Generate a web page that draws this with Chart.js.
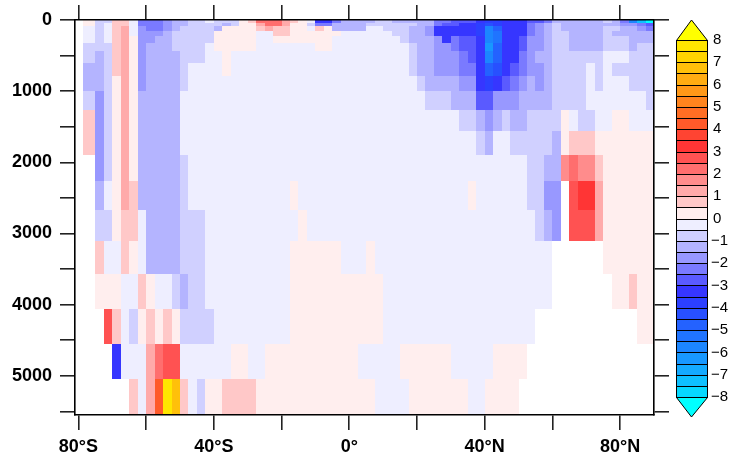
<!DOCTYPE html>
<html lang="en">
<head>
<meta charset="UTF-8">
<title>Latitude-depth section</title>
<script src="https://cdn.jsdelivr.net/npm/chart.js"></script>
<style>
  html, body { margin: 0; padding: 0; background: #fff; }
</style>
</head>
<body>
<canvas id="section" width="730" height="459"></canvas>
<script>
// latitude edges of the cells (deg, south negative) - 67 columns
const latEdges = [-78.5, -75, -72.5, -70, -67.5, -65, -62.5, -60, -57.5, -55, -52.5, -50, -47.5, -45,
  -42.5, -40, -37.5, -35, -32.5, -30, -27.5, -25, -22.5, -20, -17.5, -15, -12.5, -10, -7.5, -5, -2.5,
  0, 2.5, 5, 7.5, 10, 12.5, 15, 17.5, 20, 22.5, 25, 27.5, 30, 32.5, 35, 37.5, 40, 42.5, 45, 47.5,
  50, 52.5, 55, 57.5, 60, 62.5, 65, 67.5, 70, 72.5, 75, 77.5, 80, 82.5, 85, 87.5, 90];

// depth edges of the model layers (m) - 20 layers
const depthEdges = [0, 40, 90, 160, 230, 320, 440, 600, 780, 1000, 1260, 1565, 1890, 2265, 2675,
  3110, 3565, 4060, 4550, 5045, 5550];

// axis ticks
const xTicks = [-80, -60, -40, -20, 0, 20, 40, 60, 80];
const xTickLabels = { '-80': '80°S', '-40': '40°S', '0': '0°', '40': '40°N', '80': '80°N' };
const yTicks = [0, 500, 1000, 1500, 2000, 2500, 3000, 3500, 4000, 4500, 5000, 5500];

// contour levels and the fill colour of each band (below first level .. above last level)
const levels = [-8, -7.5, -7, -6.5, -6, -5.5, -5, -4.5, -4, -3.5, -3, -2.5, -2, -1.5, -1, -0.5, 0,
  0.5, 1, 1.5, 2, 2.5, 3, 3.5, 4, 4.5, 5, 5.5, 6, 6.5, 7, 7.5, 8];
const fillColors = ['#00FFFF', '#06D8FF', '#0EC0FF', '#14AAFF', '#1898FF', '#1C86FF', '#2074FF',
  '#2462FF', '#2850FF', '#2C40FF', '#3636FF', '#5A5AFF', '#7A7AFF', '#9898FF', '#B4B4FF', '#D0D0FF',
  '#EEEEFF', '#FFEEEE', '#FFC8C8', '#FFAAAA', '#FF8C8C', '#FF6E6E', '#FF5252', '#FF3535', '#FF4432',
  '#FF5A2A', '#FF6E24', '#FF841E', '#FF9818', '#FFAC12', '#FFC00A', '#FFD400', '#FFE600', '#FFFF00'];

// one letter per cell: the letter stands for the value in keyValues, '.' = no data
const valueKey = 'QPONMLKJIHGFEDCBAabcdefghijklmnopq';
const keyValues = [-8.25, -7.75, -7.25, -6.75, -6.25, -5.75, -5.25, -4.75, -4.25, -3.75, -3.25,
  -2.75, -2.25, -1.75, -1.25, -0.75, -0.25, 0.25, 0.75, 1.25, 1.75, 2.25, 2.75, 3.25, 3.75, 4.25,
  4.75, 5.25, 5.75, 6.25, 6.75, 7.25, 7.75, 8.25];

// anomaly, one string per depth layer (top to bottom), south to north, in groups of 10 cells
const rows = [
  'aBBbbAEEED CCBBABBBab eeecbaAGGE CCCCBBCCCC CEEFFFGHHG GGFFECCCCC CBCELOQ',
  'aBAbbAEEED CCBBBBCBaa ceecaaBEEC CCCBBBBBBC CEFFGGHIHG GGEDCBCCCC CCCDDEF',
  'ABAbcADEED CBBBBCaaaa bcbbaaAbaC CCCAABBBCC DGGGGGHLJG GGEDCBCCCC CBBCCDE',
  'ABAbcADDDC BBBBBaaaaa AAbbaaaaaa AAAAAABBCC DGGGGGHLKG GGEDCBBCCC CBCCCCC',
  'ABAbcaDDCC BBBBBaaaaa AAaaaaaaaA AAAAAAABCC CDGEFFGLKG GFDDCBBCCC CBBBCCC',
  'BBBbcaDCCC BBBBAaaaaa AAAAAAAaaA AAAAAAAABC CDDEFFGMJG GFDDCBBCCC CBBBCBB',
  'BCBbcaDCCC CBBBAAaAAA AAAAAAAAAA AAAAAAAABC CDDDEFGLJG GEDCCBBBBB BAAABBB',
  'CCBbcaDCCC CBAAAAaAAA AAAAAAAAAA AAAAAAAABC CDDDEEGJIG FEDDCBBBBA BABBBBB',
  'CCBacaDCCC CBAAAAAAAA AAAAAAAAAA AAAAAAAAAB CCCCDDGHGF EDCDCBBBBA BAAABBB',
  'BDBacaCCCC CAAAAAAAAA AAAAAAAAAA AAAAAAAAAA BBBCCCFFDD DCCCCBBBBA AAAAAAB',
  'bDBacaCCCC CAAAAAAAAA AAAAAAAAAA AAAAAAAAAA AAAABBCDCB CCBBBBaABB AAaaAAA',
  'bDBacaCCCC CAAAAAAAAA AAAAAAAAAA AAAAAAAAAA AAAAAABCAA BBBBBCabbb aaaaaaa',
  '.DBacaCCCC CBAAAAAAAA AAAAAAAAAA AAAAAAAAAA AAAAAAAAAA AABBCCdedd baaaaaa',
  '.CAacbCCCC CBAAAAAAAA AAAAaAAAAA AAAAAAAAAA AAAAAaAAAA AABBDD.fgg caaaaaa',
  '.BBabbACCC CBBBAAAAAA AAAAAaAAAA AAAAAAAAAA AAAAAAAAAA AAABCD.fff caaaaaa',
  '.bAAbaACCC CBBBAAAAAA AAAAaaaaaa AAAaAAAAAA AAAAAAAAAA AAAAA..... .aaaaaa',
  '.aaaAAbaAA BCBBAAAAAA AAAAaaaaaa aaaaaAAAAA AAAAAAAAAA AAAAA..... ..aabaa',
  '..fbABabab aBBBBAAAAA AAAAaaaaaa aaaaaAAAAA AAAAAAAAAA AAA....... .....aa',
  '...GAAAcef fAAAAAAaaA Aaaaaaaaaa aaAAAAAaaa aaaAAAAAaa aa........ .......',
  '.....bAcip nbABaabbbb aaaaaaaaaa aaaaAAAAaa aaaaaAAaaa a......... .......'
].map(s => s.replace(/ /g, ''));

function colorFor(v) {
  let k = 0;
  while (k < levels.length && v >= levels[k]) k++;
  return fillColors[k];
}

const labelFont = { family: '"Liberation Sans", Arial, Helvetica, sans-serif', size: 18, weight: 'bold' };

// filled cells, placed through the chart scales
const sectionPlugin = {
  id: 'section',
  beforeDatasetsDraw(chart) {
    const { ctx, chartArea } = chart;
    const x = chart.scales.x, y = chart.scales.y;
    ctx.save();
    ctx.beginPath();
    ctx.rect(chartArea.left, chartArea.top, chartArea.width, chartArea.height);
    ctx.clip();
    rows.forEach((row, r) => {
      const y0 = Math.round(y.getPixelForValue(depthEdges[r]));
      const y1 = Math.round(y.getPixelForValue(depthEdges[r + 1]));
      for (let c = 0; c < latEdges.length - 1; c++) {
        const k = valueKey.indexOf(row[c]);
        if (k < 0) continue;
        const x0 = Math.round(x.getPixelForValue(latEdges[c]));
        const x1 = Math.round(x.getPixelForValue(latEdges[c + 1]));
        ctx.fillStyle = colorFor(keyValues[k]);
        ctx.fillRect(x0, y0, x1 - x0, y1 - y0);
      }
    });
    ctx.restore();
  }
};

// label bar on the right
const colorbarPlugin = {
  id: 'colorbar',
  afterDraw(chart) {
    const ctx = chart.ctx;
    const left = 676, right = 707, top = 40, bottom = 397, tip = 20;
    const n = levels.length - 1;
    const h = (bottom - top) / n;
    const mid = (left + right) / 2;
    ctx.save();
    ctx.strokeStyle = '#000';
    ctx.lineWidth = 1;
    for (let i = 0; i < n; i++) {
      const yt = Math.round(top + i * h), yb = Math.round(top + (i + 1) * h);
      ctx.fillStyle = fillColors[n - i];
      ctx.fillRect(left, yt, right - left, yb - yt);
      ctx.strokeRect(left + 0.5, yt + 0.5, right - left, yb - yt);
    }
    // end triangles
    ctx.beginPath();
    ctx.moveTo(left + 0.5, top + 0.5);
    ctx.lineTo(mid, top - tip);
    ctx.lineTo(right + 0.5, top + 0.5);
    ctx.closePath();
    ctx.fillStyle = fillColors[n + 1];
    ctx.fill();
    ctx.stroke();
    ctx.beginPath();
    ctx.moveTo(left + 0.5, bottom + 0.5);
    ctx.lineTo(mid, bottom + tip);
    ctx.lineTo(right + 0.5, bottom + 0.5);
    ctx.closePath();
    ctx.fillStyle = fillColors[0];
    ctx.fill();
    ctx.stroke();
    // labels on the whole numbers
    ctx.fillStyle = '#000';
    ctx.font = '15px "Liberation Sans", Arial, sans-serif';
    ctx.textAlign = 'left';
    ctx.textBaseline = 'middle';
    levels.forEach((v, j) => {
      if (v % 1 !== 0) return;
      const yy = top + (n - j) * h;
      const txt = v < 0 ? '\u2212' + (-v) : String(v);
      ctx.fillText(txt, v < 0 ? 711 : 713, yy);
    });
    ctx.restore();
  }
};

const tickGrid = { drawOnChartArea: false, drawTicks: true, tickLength: 15, color: '#222', lineWidth: 1.6 };
const frame = { display: true, color: '#000', width: 1.6, z: 1 };

new Chart(document.getElementById('section'), {
  type: 'scatter',
  data: { datasets: [{ data: [], pointRadius: 0 }] },
  options: {
    responsive: false,
    animation: false,
    devicePixelRatio: 1,
    layout: { padding: 0 },
    plugins: { legend: { display: false }, tooltip: { enabled: false } },
    scales: {
      x: {
        type: 'linear', position: 'bottom', min: -81, max: 90,
        afterBuildTicks: s => { s.ticks = xTicks.map(v => ({ value: v })); },
        afterFit: s => { s.height = 44; },
        grid: tickGrid, border: frame,
        ticks: { autoSkip: false, maxRotation: 0, padding: 6, color: '#000', font: labelFont,
          callback: v => xTickLabels[String(v)] || '' }
      },
      xTop: {
        type: 'linear', axis: 'x', position: 'top', min: -81, max: 90,
        afterBuildTicks: s => { s.ticks = xTicks.map(v => ({ value: v })); },
        afterFit: s => { s.height = 20; },
        grid: tickGrid, border: frame,
        ticks: { display: false }
      },
      y: {
        type: 'linear', position: 'left', min: 0, max: 5550, reverse: true,
        afterBuildTicks: s => { s.ticks = yTicks.map(v => ({ value: v })); },
        afterFit: s => { s.width = 75; },
        grid: tickGrid, border: frame,
        ticks: { autoSkip: false, padding: 8, color: '#000', font: labelFont,
          callback: v => (v % 1000 === 0 ? String(v) : '') }
      },
      yRight: {
        type: 'linear', axis: 'y', position: 'right', min: 0, max: 5550, reverse: true,
        afterBuildTicks: s => { s.ticks = yTicks.map(v => ({ value: v })); },
        afterFit: s => { s.width = 76; },
        grid: tickGrid, border: frame,
        ticks: { display: false }
      }
    }
  },
  plugins: [sectionPlugin, colorbarPlugin]
});
</script>
</body>
</html>
